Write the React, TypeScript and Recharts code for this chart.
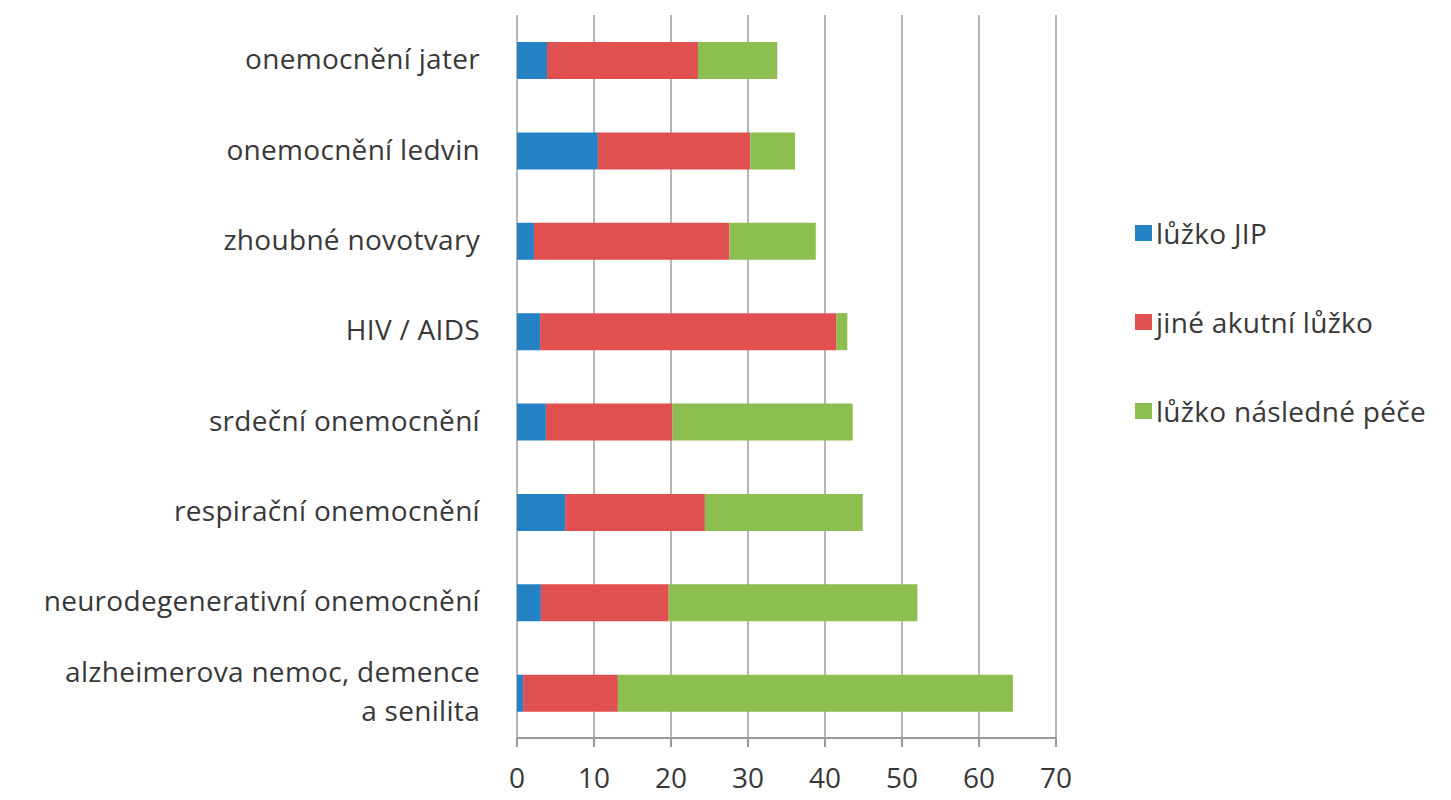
import React from "react";
import { BarChart, Bar, XAxis, YAxis, CartesianGrid, Legend } from "recharts";

const categories = [
  "onemocnění jater",
  "onemocnění ledvin",
  "zhoubné novotvary",
  "HIV / AIDS",
  "srdeční onemocnění",
  "respirační onemocnění",
  "neurodegenerativní onemocnění",
  "alzheimerova nemoc, demence|a senilita",
];

const jip = [3.9, 10.5, 2.2, 3.0, 3.75, 6.25, 3.1, 0.8];
const akutni = [19.6, 19.8, 25.4, 38.5, 16.45, 18.15, 16.6, 12.3];
const nasledna = [10.3, 5.8, 11.2, 1.4, 23.4, 20.5, 32.3, 51.3];

const xTicks = [0, 10, 20, 30, 40, 50, 60, 70];
const bandTicks = [0, 1, 2, 3, 4, 5, 6, 7, 8];

const seriesNames = ["lůžko JIP", "jiné akutní lůžko", "lůžko následné péče"];
const colors = ["#2381C4", "#E05050", "#8CBF50"];

const data = categories.map((c, i) => ({
  name: c,
  jip: jip[i],
  akutni: akutni[i],
  nasledna: nasledna[i],
}));

const FONT = "'Open Sans', sans-serif";
const TEXT = "#383838";
const AXIS = "#999999";
const FS = 28;
const LS = 0.3;

function CategoryTick(props: any) {
  const { x, y, payload } = props;
  const lines = String(payload.value).split("|");
  const multi = lines.length > 1;
  return (
    <text x={x} y={y} textAnchor="end" fill={TEXT} fontFamily={FONT} fontSize={FS} letterSpacing={LS}>
      {lines.map((l, i) => (
        <tspan key={i} x={x} dy={i === 0 ? (multi ? -11 : 9) : 39}>
          {l}
        </tspan>
      ))}
    </text>
  );
}

function LegendContent() {
  return (
    <div style={{ fontFamily: FONT, fontSize: FS, color: TEXT, letterSpacing: LS }}>
      {seriesNames.map((n, i) => (
        <div key={n} style={{ display: "flex", alignItems: "center", height: 89 }}>
          <span style={{ width: 17, height: 16, background: colors[i], marginRight: 4, display: "inline-block" }} />
          <span>{n}</span>
        </div>
      ))}
    </div>
  );
}

export default function App() {
  return (
    <div style={{ width: 1435, height: 792, background: "#fff" }}>
      <BarChart
        width={1435}
        height={792}
        data={data}
        layout="vertical"
        margin={{ top: 7, right: 387, bottom: 0, left: 0 }}
        barSize={37}
      >
        <CartesianGrid horizontal={false} stroke="#a4a4a4" strokeWidth={1.6} />
        <XAxis
          type="number"
          domain={[0, 70]}
          ticks={xTicks}
          interval={0}
          height={62}
          stroke={AXIS}
          strokeWidth={2}
          tickSize={9}
          tickMargin={21}
          tick={{ fill: TEXT, fontFamily: FONT, fontSize: FS }}
        />
        <YAxis
          yAxisId="frame"
          type="number"
          domain={[0, 8]}
          ticks={bandTicks}
          interval={0}
          width={0}
          tick={false}
          tickSize={12}
          stroke={AXIS}
          strokeWidth={2}
          allowDataOverflow
        />
        <YAxis
          type="category"
          dataKey="name"
          width={509}
          axisLine={false}
          tickLine={false}
          tickSize={0}
          tickMargin={37}
          interval={0}
          tick={<CategoryTick />}
        />
        <Legend
          layout="vertical"
          align="center"
          verticalAlign="middle"
          wrapperStyle={{ left: 1127, top: 180, width: 320 }}
          content={<LegendContent />}
        />
        <Bar dataKey="jip" stackId="a" fill={colors[0]} name={seriesNames[0]} isAnimationActive={false} />
        <Bar dataKey="akutni" stackId="a" fill={colors[1]} name={seriesNames[1]} isAnimationActive={false} />
        <Bar dataKey="nasledna" stackId="a" fill={colors[2]} name={seriesNames[2]} isAnimationActive={false} />
      </BarChart>
    </div>
  );
}
